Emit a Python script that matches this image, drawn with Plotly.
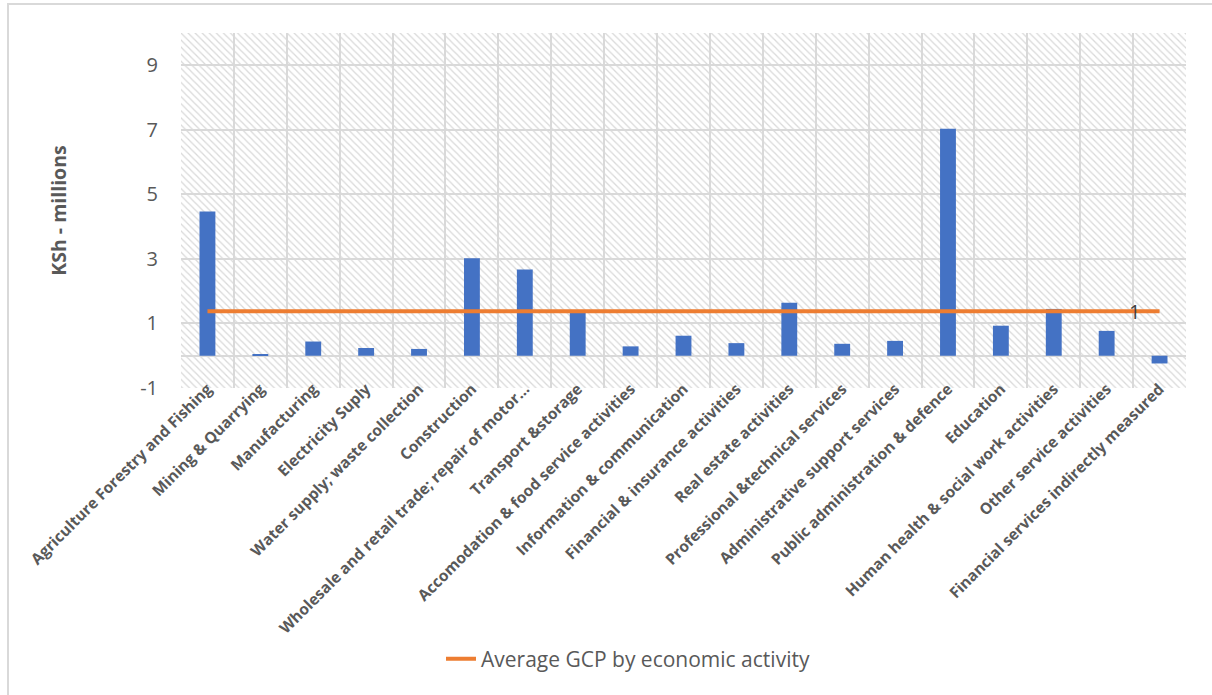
import plotly.graph_objects as go

categories = [
    "Agriculture Forestry and Fishing",
    "Mining & Quarrying",
    "Manufacturing",
    "Electricity Suply",
    "Water supply; waste collection",
    "Construction",
    "Wholesale and retail trade; repair of motor…",
    "Transport &storage",
    "Accomodation & food service activities",
    "Information & communication",
    "Financial & insurance activities",
    "Real estate activities",
    "Professional &technical services",
    "Administrative support services",
    "Public administration & defence",
    "Education",
    "Human health & social work activities",
    "Other service activities",
    "Financial services indirectly measured",
]
gcp_values = [4.47, 0.03, 0.44, 0.24, 0.21, 3.02, 2.67, 1.37, 0.29, 0.62,
              0.39, 1.64, 0.37, 0.46, 7.03, 0.93, 1.45, 0.77, -0.24]
average_values = [1.38, 1.38, 1.38, 1.38, 1.38, 1.38, 1.38, 1.38, 1.38, 1.38,
                  1.38, 1.38, 1.38, 1.38, 1.38, 1.38, 1.38, 1.38, 1.38]
y_ticks = [-1, 1, 3, 5, 7, 9]
y_min, y_max = -1, 10

positions = list(range(len(categories)))
x_lo, x_hi = -0.5, len(categories) - 0.5

FONT = "Open Sans"
GREY = "#595959"
GRID = "#d9d9d9"

fig = go.Figure()

# hatched plot-area background (one bar spanning the whole plot area)
fig.add_trace(go.Bar(
    x=[(x_lo + x_hi) / 2], y=[y_max - y_min], base=[y_min], width=[x_hi - x_lo],
    marker=dict(color="rgba(0,0,0,0)", line=dict(width=0),
                pattern=dict(shape="\\", fgcolor="#d9d9d9", bgcolor="rgba(0,0,0,0)",
                             size=5, solidity=0.25, fillmode="replace")),
    hoverinfo="skip", showlegend=False,
))

fig.add_trace(go.Bar(
    x=positions, y=gcp_values, marker=dict(color="#4472C4", line=dict(width=0)),
    showlegend=False, name="GCP",
))

fig.add_trace(go.Scatter(
    x=positions, y=average_values, mode="lines",
    line=dict(color="#ED7D31", width=4),
    name="Average GCP by economic activity",
))

fig.add_annotation(
    x=positions[-1], y=average_values[-1], text=f"{average_values[-1]:.0f}",
    showarrow=False, xshift=-25, font=dict(family=FONT, size=20, color="#404040"),
)

# chart outer border
fig.add_shape(type="rect", xref="paper", yref="paper",
              x0=(8 - 181) / 1005, x1=(1230 - 181) / 1005,
              y0=(388 - 720) / 355, y1=(388 - 4) / 355,
              line=dict(color=GRID, width=2), fillcolor="rgba(0,0,0,0)", layer="below")

fig.update_layout(
    width=1212, height=695,
    margin=dict(l=181, r=26, t=33, b=307),
    paper_bgcolor="white", plot_bgcolor="white",
    barmode="overlay", bargap=0.7,
    font=dict(family=FONT, color=GREY),
    legend=dict(orientation="h", x=(628 - 181) / 1005, xanchor="center",
                y=(388 - 659) / 355, yanchor="middle",
                font=dict(family=FONT, size=21, color=GREY)),
    xaxis=dict(
        range=[x_lo, x_hi], tickmode="array", tickvals=positions, ticktext=categories,
        tickangle=-45, showgrid=False, zeroline=False, showline=False,
        tickfont=dict(family=FONT, size=15.5, color=GREY, weight="bold"),
        ticklabelstandoff=-12,
        minor=dict(tick0=0.5, dtick=1, showgrid=True, gridcolor=GRID, gridwidth=2),
        ticks="",
    ),
    yaxis=dict(
        range=[y_min, y_max], tickmode="array", tickvals=y_ticks,
        ticktext=[str(v) for v in y_ticks],
        showgrid=True, gridcolor=GRID, gridwidth=2,
        zeroline=True, zerolinecolor=GRID, zerolinewidth=2,
        tickfont=dict(family=FONT, size=20, color=GREY),
        ticklabelstandoff=22,
        title=dict(text="KSh - millions", standoff=68,
                   font=dict(family=FONT, size=19.5, color=GREY, weight="bold")),
    ),
)

fig.write_html("out.html")
